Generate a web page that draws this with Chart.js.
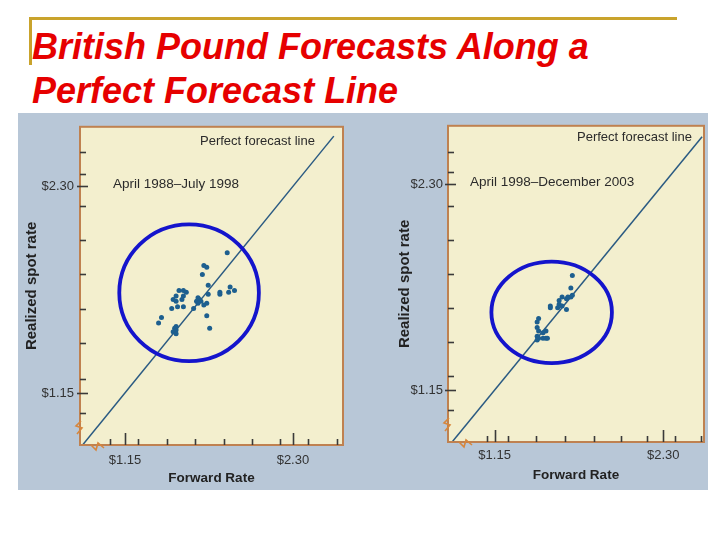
<!DOCTYPE html>
<html>
<head>
<meta charset="utf-8">
<script src="https://cdn.jsdelivr.net/npm/chart.js@4.4.1/dist/chart.umd.min.js"></script>
<style>
  html, body { margin: 0; padding: 0; background: #fff; }
  #page { position: relative; width: 720px; height: 540px; overflow: hidden; font-family: "Liberation Sans", Arial, sans-serif; }
  .rule-h { position: absolute; left: 29px; top: 17px; width: 648px; height: 3px; background: #c9a32c; }
  .rule-v { position: absolute; left: 29px; top: 17px; width: 3px; height: 48px; background: #c9a32c; }
  h1 { position: absolute; left: 32px; top: 25px; margin: 0; font-size: 36px; line-height: 44px; font-weight: bold; font-style: italic; color: #e60000; }
  #photo { position: absolute; left: 18px; top: 113px; width: 690px; height: 377px; background: #b8c7d7; }
  canvas { position: absolute; }
  .note { position: absolute; font-size: 13px; line-height: 16px; color: #2b2b2b; white-space: nowrap; }
</style>
</head>
<body>
<div id="page">
  <div class="rule-h"></div>
  <div class="rule-v"></div>
  <h1>British Pound Forecasts Along a<br>Perfect Forecast Line</h1>
  <div id="photo"></div>
  <canvas id="left" width="350" height="377" style="left:18px; top:113px;"></canvas>
  <canvas id="right" width="340" height="377" style="left:368px; top:113px;"></canvas>
  <div class="note" style="left:200px; top:133px;">Perfect forecast line</div>
  <div class="note" style="left:113px; top:176px; font-size:13.5px;">April 1988–July 1998</div>
  <div class="note" style="left:577px; top:129px;">Perfect forecast line</div>
  <div class="note" style="left:470px; top:174px; font-size:13.5px;">April 1998–December 2003</div>
</div>
<script>
// tick positions
var xTicksLeft = [1.05, 1.15, 1.24, 1.44, 1.63, 1.83, 2.02, 2.21, 2.30, 2.40, 2.60];
var yTicksLeft = [1.04, 1.15, 1.23, 1.43, 1.62, 1.81, 2.00, 2.19, 2.30, 2.37, 2.49];
var xTicksRight = [1.10, 1.15, 1.24, 1.43, 1.63, 1.83, 2.01, 2.19, 2.30, 2.38, 2.56];
var yTicksRight = [1.04, 1.15, 1.23, 1.42, 1.61, 1.80, 1.99, 2.18, 2.30, 2.37, 2.48];
var labelledRates = [1.15, 2.30];

// perfect forecast line (forward = spot)
var lineLeft = [0.86, 2.58];
var lineRight = [0.86, 2.565];

// April 1988 - July 1998
var fwd8898 = [1.85, 1.69, 1.71, 1.68, 1.72, 1.80, 1.80, 1.87, 1.90, 1.86, 1.52, 1.55, 1.57, 1.55, 1.54, 1.50, 1.48, 1.50, 1.47, 1.51, 1.55, 1.65, 1.66, 1.64, 1.67, 1.65, 1.71, 1.69, 1.62, 1.72, 1.71, 1.73, 1.40, 1.38, 1.49, 1.50, 1.48, 1.50, 1.50];
var spot8898 = [1.93, 1.86, 1.85, 1.81, 1.75, 1.71, 1.70, 1.74, 1.72, 1.71, 1.72, 1.72, 1.71, 1.69, 1.67, 1.69, 1.67, 1.66, 1.62, 1.63, 1.63, 1.68, 1.67, 1.66, 1.66, 1.65, 1.65, 1.64, 1.62, 1.70, 1.58, 1.51, 1.57, 1.54, 1.51, 1.50, 1.49, 1.48, 1.52];

// April 1998 - December 2003
var fwd9803 = [1.68, 1.67, 1.67, 1.68, 1.61, 1.59, 1.64, 1.65, 1.59, 1.61, 1.58, 1.53, 1.53, 1.64, 1.45, 1.44, 1.44, 1.45, 1.50, 1.48, 1.44, 1.45, 1.48, 1.50, 1.51, 1.44];
var spot9803 = [1.79, 1.72, 1.67, 1.68, 1.67, 1.65, 1.66, 1.67, 1.63, 1.62, 1.61, 1.62, 1.61, 1.60, 1.55, 1.53, 1.50, 1.48, 1.48, 1.47, 1.45, 1.44, 1.44, 1.44, 1.44, 1.43];

// highlight rings: centre x, centre y, radius x, radius y (rate units)
var ring8898 = [1.589, 1.708, 0.478, 0.381];
var ring9803 = [1.539, 1.584, 0.411, 0.283];

function isLabelled(v) {
    return labelledRates.indexOf(v) !== -1;
}

function zigzag(ctx, x, y, vertical) {
    ctx.beginPath();
    if (vertical) {
        ctx.moveTo(x + 1, y - 7);
        ctx.lineTo(x - 4, y - 2);
        ctx.lineTo(x + 2, y);
        ctx.lineTo(x - 3, y + 6);
    } else {
        ctx.moveTo(x - 7, y - 1);
        ctx.lineTo(x - 2, y + 4);
        ctx.lineTo(x, y - 3);
        ctx.lineTo(x + 6, y + 2);
    }
    ctx.stroke();
}

var framePlugin = {
    id: 'frame',
    beforeDatasetsDraw: function(chart) {
        var a = chart.chartArea, ctx = chart.ctx;
        ctx.save();
        ctx.fillStyle = '#f3efce';
        ctx.fillRect(a.left, a.top, a.right - a.left, a.bottom - a.top);
        ctx.restore();
    },
    afterDatasetsDraw: function(chart, args, opts) {
        var a = chart.chartArea, ctx = chart.ctx;
        var xs = chart.scales.x, ys = chart.scales.y;
        var ring = opts.ring;
        ctx.save();

        // highlight ring
        var cx = xs.getPixelForValue(ring[0]), cy = ys.getPixelForValue(ring[1]);
        var rx = Math.abs(xs.getPixelForValue(ring[0] + ring[2]) - cx);
        var ry = Math.abs(ys.getPixelForValue(ring[1] + ring[3]) - cy);
        ctx.strokeStyle = '#1414cc';
        ctx.lineWidth = 3.8;
        ctx.beginPath();
        ctx.ellipse(cx, cy, rx, ry, 0, 0, Math.PI * 2);
        ctx.stroke();

        // panel border
        ctx.strokeStyle = '#bf8150';
        ctx.lineWidth = 2;
        ctx.strokeRect(a.left, a.top, a.right - a.left, a.bottom - a.top);

        // tick marks, pointing into the panel
        ctx.strokeStyle = '#3a3a3a';
        ctx.lineWidth = 1.6;
        xs.ticks.forEach(function(t) {
            var px = Math.round(xs.getPixelForValue(t.value)) + 0.5;
            ctx.beginPath();
            ctx.moveTo(px, a.bottom);
            ctx.lineTo(px, a.bottom - (isLabelled(t.value) ? 12 : 6));
            ctx.stroke();
        });
        ys.ticks.forEach(function(t) {
            var py = Math.round(ys.getPixelForValue(t.value)) + 0.5;
            ctx.beginPath();
            ctx.moveTo(a.left - (isLabelled(t.value) ? 3 : 0), py);
            ctx.lineTo(a.left + (isLabelled(t.value) ? 8 : 6), py);
            ctx.stroke();
        });

        // axis break marks
        ctx.strokeStyle = '#d7863c';
        ctx.lineWidth = 1.6;
        zigzag(ctx, a.left, a.bottom - 17, true);
        zigzag(ctx, a.left + 18, a.bottom + 1, false);
        ctx.restore();
    }
};

function makeChart(id, o) {
    var points = o.fwd.map(function(f, i) { return {x: f, y: o.spot[i]}; });
    var line = o.line.map(function(v) { return {x: v, y: v}; });

    new Chart(document.getElementById(id), {
        type: 'scatter',
        data: {
            datasets: [{
                data: line,
                showLine: true,
                borderColor: '#2a5a82',
                borderWidth: 1.5,
                pointRadius: 0,
                order: 2
            }, {
                data: points,
                backgroundColor: '#1d5f8f',
                borderWidth: 0,
                pointRadius: 2.5,
                order: 1
            }]
        },
        options: {
            responsive: false,
            animation: false,
            events: [],
            layout: { padding: o.pad },
            plugins: {
                legend: { display: false },
                tooltip: { enabled: false },
                frame: { ring: o.ring }
            },
            scales: {
                x: {
                    type: 'linear',
                    min: o.xmin,
                    max: o.xmax,
                    afterBuildTicks: function(s) { s.ticks = o.xTicks.map(function(v) { return {value: v}; }); },
                    afterFit: function(s) { s.height = o.xh; },
                    grid: { display: false, drawTicks: false },
                    border: { display: false },
                    ticks: {
                        autoSkip: false,
                        maxRotation: 0,
                        padding: o.xpad,
                        color: '#333',
                        font: { family: 'Liberation Sans', size: 13 },
                        callback: function(v) { return isLabelled(v) ? '$' + v.toFixed(2) : ''; }
                    },
                    title: {
                        display: true,
                        text: 'Forward Rate',
                        color: '#222',
                        font: { family: 'Liberation Sans', size: 13.5, weight: 'bold' },
                        padding: { top: 0, bottom: o.xtb }
                    }
                },
                y: {
                    type: 'linear',
                    min: o.ymin,
                    max: o.ymax,
                    afterBuildTicks: function(s) { s.ticks = o.yTicks.map(function(v) { return {value: v}; }); },
                    afterFit: function(s) { s.width = o.yw; },
                    grid: { display: false, drawTicks: false },
                    border: { display: false },
                    ticks: {
                        autoSkip: false,
                        padding: o.ypad,
                        color: '#333',
                        font: { family: 'Liberation Sans', size: 13 },
                        callback: function(v) { return isLabelled(v) ? '$' + v.toFixed(2) : ''; }
                    },
                    title: {
                        display: true,
                        text: 'Realized spot rate',
                        color: '#222',
                        font: { family: 'Liberation Sans', size: 15, weight: 'bold' },
                        padding: { top: o.ytp, bottom: 0 }
                    }
                }
            }
        },
        plugins: [framePlugin]
    });
}

makeChart('left', {
    fwd: fwd8898, spot: spot8898, line: lineLeft, ring: ring8898,
    xTicks: xTicksLeft, yTicks: yTicksLeft,
    xmin: 0.842, xmax: 2.643, ymin: 0.86, ymax: 2.632,
    pad: { left: 0, top: 10, right: 25, bottom: 0 },
    yw: 62, xh: 45, xpad: 8, ypad: 6, xtb: 3.6, ytp: 5
});

makeChart('right', {
    fwd: fwd9803, spot: spot9803, line: lineRight, ring: ring9803,
    xTicks: xTicksRight, yTicks: yTicksRight,
    xmin: 0.832, xmax: 2.578, ymin: 0.86, ymax: 2.626,
    pad: { left: 0, top: 4, right: 2, bottom: 0 },
    yw: 80, xh: 48, xpad: 6, ypad: 5, xtb: 6.9, ytp: 28
});
</script>
</body>
</html>
